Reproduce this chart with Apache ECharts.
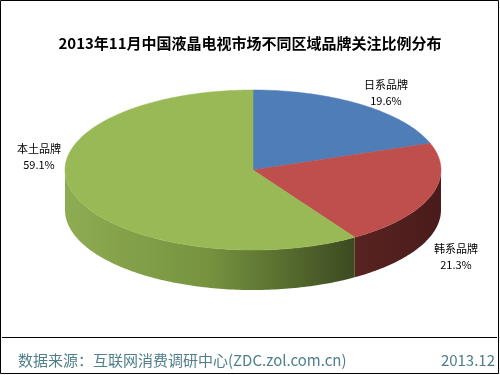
<!DOCTYPE html>
<html>
<head>
<meta charset="utf-8">
<script src="https://cdn.jsdelivr.net/npm/echarts@6/dist/echarts.min.js"></script>
<style>
html,body{margin:0;padding:0;background:#fff;}
#c{width:500px;height:375px;}
</style>
</head>
<body>
<div id="c"></div>
<script>
// ---- data ----
var categories = ['日系品牌', '韩系品牌', '本土品牌'];
var shares = [19.6, 21.3, 59.1];
var titleText = '2013年11月中国液晶电视市场不同区域品牌关注比例分布';
var sourceText = '数据来源：互联网消费调研中心(ZDC.zol.com.cn)';
var dateText = '2013.12';

// ---- style / layout ----
var topColors = ['#4F7DB8', '#BE4F4C', '#99B957'];
var FONT = '"Noto Sans CJK SC", "Noto Sans", sans-serif';
var pie = { cx: 253, cy: 170, rx: 188, ry: 80, depth: 40 };
var labelPos = [[386, 93], [456, 257], [39, 157]];

var chart = echarts.init(document.getElementById('c'), null, { renderer: 'canvas' });

function pt(theta, dy) {
  return [pie.cx + pie.rx * Math.sin(theta), pie.cy - pie.ry * Math.cos(theta) + (dy || 0)];
}
function arc(a1, a2, dy) {
  var pts = [];
  var n = Math.max(2, Math.ceil((a2 - a1) / (Math.PI / 180)));
  for (var i = 0; i <= n; i++) pts.push(pt(a1 + (a2 - a1) * i / n, dy));
  return pts;
}
var total = shares.reduce(function (a, b) { return a + b; }, 0);

function sideFill(i) {
  if (i === 2) {
    return new echarts.graphic.LinearGradient(65, 0, 355, 0, [
      { offset: 0, color: '#8EAC52' },
      { offset: 0.5, color: '#76923F' },
      { offset: 1, color: '#3B4A20' }
    ], true);
  }
  if (i === 1) {
    return new echarts.graphic.LinearGradient(355, 0, 441, 0, [
      { offset: 0, color: '#582320' },
      { offset: 1, color: '#4A1B1B' }
    ], true);
  }
  return '#2F4D73';
}

function renderItem(params, api) {
  var i = params.dataIndex;
  var before = 0;
  for (var k = 0; k < i; k++) before += shares[k];
  var v = api.value(1);
  var a1 = before / total * Math.PI * 2;
  var a2 = (before + v) / total * Math.PI * 2;
  var children = [];
  var s1 = Math.max(a1, Math.PI / 2), s2 = Math.min(a2, Math.PI * 1.5);
  if (s2 > s1) {
    var top = arc(s1, s2, 0);
    var bot = arc(s1, s2, pie.depth).reverse();
    children.push({
      type: 'polygon',
      shape: { points: top.concat(bot) },
      style: { fill: sideFill(i), stroke: null }
    });
  }
  children.push({
    type: 'polygon',
    shape: { points: [[pie.cx, pie.cy]].concat(arc(a1, a2, 0)) },
    style: { fill: topColors[i], stroke: topColors[i], lineWidth: 0.5 }
  });
  children.push({
    type: 'text',
    x: labelPos[i][0], y: labelPos[i][1],
    style: {
      text: api.value(0) + '\n' + v.toFixed(1) + '%',
      fill: '#000', font: '11px ' + FONT,
      align: 'center', verticalAlign: 'middle', lineHeight: 16
    }
  });
  return { type: 'group', children: children };
}

var seriesData = categories.map(function (c, i) { return [c, shares[i]]; });

chart.setOption({
  animation: false,
  backgroundColor: '#fff',
  title: {
    text: titleText, left: 'center', top: 31,
    textStyle: { fontSize: 15, fontWeight: 'bold', color: '#000', fontFamily: FONT }
  },
  series: [{
    type: 'custom',
    coordinateSystem: 'none',
    renderItem: renderItem,
    data: seriesData
  }],
  graphic: [
    { type: 'rect', shape: { x: 0.5, y: 0.5, width: 498, height: 373 },
      style: { fill: null, stroke: '#000', lineWidth: 1 }, silent: true },
    { type: 'line', shape: { x1: 2, y1: 337.5, x2: 497, y2: 337.5 },
      style: { stroke: '#000', lineWidth: 1 }, silent: true },
    { type: 'text', x: 18, y: 360,
      style: { text: sourceText, fill: '#4E7F8C', font: '15px ' + FONT, verticalAlign: 'middle' } },
    { type: 'text', x: 495, y: 360,
      style: { text: dateText, fill: '#4E7F8C', font: '15px ' + FONT, align: 'right', verticalAlign: 'middle' } }
  ]
});
</script>
</body>
</html>
